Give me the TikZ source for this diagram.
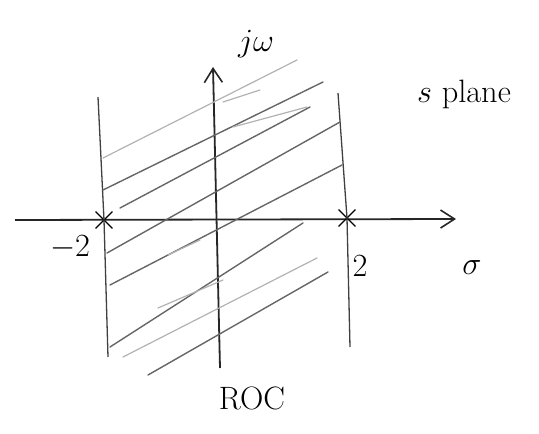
\documentclass[tikz,border=0pt]{standalone}
\usetikzlibrary{arrows.meta, positioning, shapes.misc}
\begin{document}
\begin{tikzpicture}[
    x=1pt, y=-1pt,
    every node/.style={font=\Huge, scale=1.3},
    axis/.style={draw=black!85, line width=1.8pt,
                 -{Straight Barb[length=14pt, width=18pt, line width=1.6pt]}},
    bound/.style={draw=black!75, line width=1.3pt},
    hatch/.style={draw=black!60, line width=1.4pt, line cap=round},
    faint/.style={draw=black!30, line width=1.2pt, line cap=round},
    pole/.style={draw=black, cross out, minimum size=11.5pt, line width=1.4pt, inner sep=0pt}
  ]
  \useasboundingbox (0,0) rectangle (539,434);

  % axes
  \coordinate (sl) at (15,220);
  \coordinate (sr) at (456,219);
  \coordinate (wb) at (220,368);
  \coordinate (wt) at (213,67);
  \draw[axis] (sl) -- (sr);
  \draw[axis] (wb) -- (wt);

  % poles and ROC boundaries
  \node[pole] (pl) at (104,220) {};
  \node[pole] (pr) at (347,218) {};
  \coordinate (lt) at (98,97);
  \coordinate (lb) at (108,357);
  \coordinate (rt) at (338,93);
  \coordinate (rb) at (350,347);
  \draw[bound] (lt) -- (pl.center) -- (lb);
  \draw[bound] (rt) -- (pr.center) -- (rb);

  % hatching
  \foreach \xa/\ya/\xb/\yb in {103/190/323/82, 120/208/310/107, 107/253/340/122,
                               110/285/342/165, 110/347/303/223, 148/375/328/272}
    \draw[hatch] (\xa,\ya) -- (\xb,\yb);
  \foreach \xa/\ya/\xb/\yb in {103/158/297/60, 123/357/317/258, 223/102/260/90,
                               233/127/307/107, 158/308/223/280, 168/255/200/240}
    \draw[faint] (\xa,\ya) -- (\xb,\yb);

  % labels
  \node (jw) at (256,44) {$j\omega$};
  \node (splane) at (464,94) {$s$ plane};
  \node (mtwo) at (70,247) {$-2$};
  \node (ptwo) at (360,266) {$2$};
  \node (sig) at (472,268) {$\sigma$};
  \node (roc) at (252,398) {ROC};
\end{tikzpicture}
\end{document}
